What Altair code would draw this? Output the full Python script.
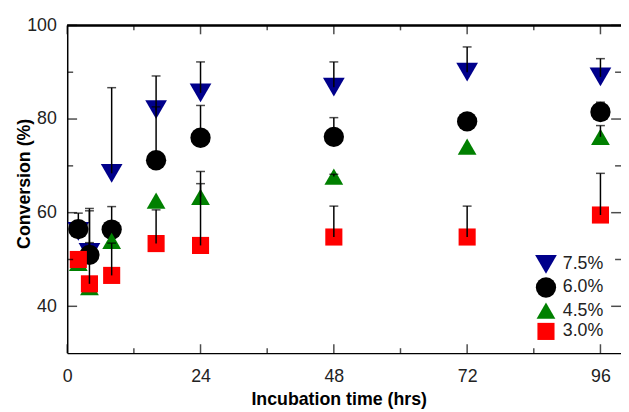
import altair as alt
import pandas as pd

times = [2, 4, 8, 16, 24, 48, 72, 96]
series = ["7.5%", "6.0%", "4.5%", "3.0%"]
conv_75 = [56.0, 51.5, 68.4, 82.0, 85.6, 86.8, 90.0, 89.0]
err_75 = [0.0, 8.9, 18.3, 7.2, 6.6, 5.4, 5.4, 3.9]
conv_60 = [56.5, 51.0, 56.4, 71.2, 76.0, 76.2, 79.5, 81.5]
err_60 = [3.4, 9.9, 4.9, 11.4, 6.9, 4.1, 0.0, 2.1]
conv_45 = [49.3, 44.1, 54.0, 62.6, 63.4, 67.7, 74.1, 76.2]
err_45 = [0.0, 0.0, 0.0, 0.0, 5.4, 0.5, 0.0, 2.4]
conv_30 = [50.0, 44.8, 46.6, 53.4, 53.0, 54.8, 54.8, 59.5]
err_30 = [0.0, 8.8, 6.9, 7.2, 13.2, 6.6, 6.6, 8.9]

colors = ["#00008b", "#000000", "#008000", "#ff0000"]
shapes = ["triangle-down", "circle", "triangle-up", "square"]
sizes = [484, 300, 484, 230]

x_major = [0, 24, 48, 72, 96]
x_minor = [12, 36, 60, 84]
y_major = [40, 60, 80, 100]
y_minor = [50, 70, 90]

rows = []
for s, vals, errs in zip(series, [conv_75, conv_60, conv_45, conv_30],
                         [err_75, err_60, err_45, err_30]):
    for t, v, e in zip(times, vals, errs):
        rows.append({"time": t, "series": s, "conv": v, "upper": v + e, "err": e})
df = pd.DataFrame(rows)

W, H = 561, 332
FONT = "Liberation Sans"

xscale = alt.Scale(domain=[0, 99.7], nice=False, zero=False)
yscale = alt.Scale(domain=[30, 100], nice=False, zero=False)

xaxis = alt.Axis(values=x_major, title="Incubation time (hrs)", ticks=False, tickSize=0,
                 labelPadding=15, labelFontSize=18, labelFont=FONT, labelColor="#222222",
                 labelFlush=False, domainColor="black", domainWidth=1.5, grid=False,
                 titleFont=FONT, titleFontSize=18, titleFontWeight="bold", titleColor="black",
                 titleX=275, titleY=47, titleBaseline="middle", titleAnchor="middle")
yaxis = alt.Axis(values=y_major, title="Conversion (%)", ticks=False, tickSize=0,
                 labelPadding=11, labelFontSize=18, labelFont=FONT, labelColor="#222222",
                 labelFlush=False, domainColor="black", domainWidth=1.5, grid=False,
                 titleFont=FONT, titleFontSize=18, titleFontWeight="bold", titleColor="black",
                 titleX=-43, titleY=160, titleAngle=270, titleBaseline="middle",
                 titleAlign="center", titleAnchor="middle")

legend = alt.Legend(title=None, orient="none", legendX=474, legendY=231,
                    labelFont=FONT, labelFontSize=18, labelColor="#222222",
                    labelOffset=6, rowPadding=3, padding=0, symbolStrokeWidth=0,
                    symbolOpacity=1)

X = alt.X("time:Q", scale=xscale, axis=xaxis)
Y = alt.Y("conv:Q", scale=yscale, axis=yaxis)

points = alt.Chart(df).mark_point(filled=True, opacity=1, strokeWidth=0).encode(
    x=X, y=Y,
    color=alt.Color("series:N", scale=alt.Scale(domain=series, range=colors), legend=legend),
    shape=alt.Shape("series:N", scale=alt.Scale(domain=series, range=shapes), legend=legend),
    size=alt.Size("series:N", scale=alt.Scale(domain=series, range=sizes), legend=legend),
)

bars = alt.Chart(df).transform_filter("datum.err > 0").mark_rule(
    color="black", strokeWidth=1.5).encode(x=X, y=Y, y2="upper:Q")
caps = alt.Chart(df).transform_filter("datum.err > 0").mark_tick(
    orient="horizontal", color="black", size=9, thickness=1.5).encode(
    x=X, y=alt.Y("upper:Q", scale=yscale, axis=yaxis))

dxM = pd.DataFrame({"v": x_major})
dxm = pd.DataFrame({"v": x_minor})
dyM = pd.DataFrame({"v": y_major})
dym = pd.DataFrame({"v": y_minor})
XT = alt.X("v:Q", scale=xscale, axis=xaxis)
YT = alt.Y("v:Q", scale=yscale, axis=yaxis)

tick_layers = [
    alt.Chart(dxM).mark_tick(orient="vertical", color="black", size=9, thickness=1.5).encode(x=XT, y=alt.value(H - 4.5)),
    alt.Chart(dxM).mark_tick(orient="vertical", color="black", size=9, thickness=1.5).encode(x=XT, y=alt.value(4.5)),
    alt.Chart(dxm).mark_tick(orient="vertical", color="black", size=5, thickness=1.5).encode(x=XT, y=alt.value(H - 2.5)),
    alt.Chart(dxm).mark_tick(orient="vertical", color="black", size=5, thickness=1.5).encode(x=XT, y=alt.value(2.5)),
    alt.Chart(dyM).mark_tick(orient="horizontal", color="black", size=10, thickness=1.5).encode(y=YT, x=alt.value(5)),
    alt.Chart(dyM).mark_tick(orient="horizontal", color="black", size=10, thickness=1.5).encode(y=YT, x=alt.value(W - 5)),
    alt.Chart(dym).mark_tick(orient="horizontal", color="black", size=6, thickness=1.5).encode(y=YT, x=alt.value(3)),
    alt.Chart(dym).mark_tick(orient="horizontal", color="black", size=6, thickness=1.5).encode(y=YT, x=alt.value(W - 3)),
]

top = alt.Chart(dxM).mark_rule(color="black", strokeWidth=1.5).encode(
    x=alt.value(0), x2=alt.value(W), y=alt.value(0))

chart = alt.layer(points, bars, caps, top, *tick_layers).properties(
    width=W, height=H,
    autosize=alt.AutoSizeParams(type="none"),
    padding={"left": 60, "top": 15, "right": 0, "bottom": 56},
    background="white",
).configure_view(stroke=None)

chart.save("out.html", embed_options={"renderer": "svg", "actions": False})
